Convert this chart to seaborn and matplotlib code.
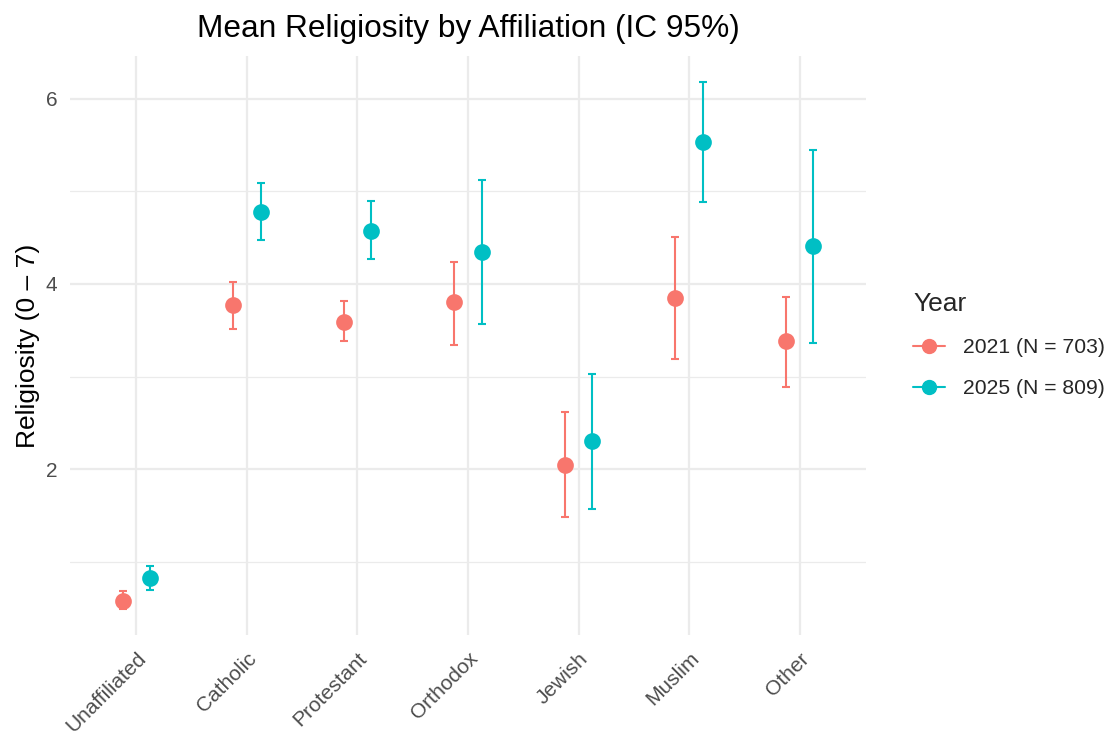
import numpy as np
import pandas as pd
import matplotlib
matplotlib.use("Agg")
import matplotlib.pyplot as plt
from matplotlib.lines import Line2D
import seaborn as sns

categories = ["Unaffiliated", "Catholic", "Protestant", "Orthodox", "Jewish", "Muslim", "Other"]
years = ["2021 (N = 703)", "2025 (N = 809)"]
mean_2021 = [0.58, 3.77, 3.59, 3.80, 2.04, 3.85, 3.38]
low_2021 = [0.49, 3.51, 3.38, 3.34, 1.48, 3.19, 2.89]
high_2021 = [0.68, 4.02, 3.82, 4.24, 2.62, 4.51, 3.86]
mean_2025 = [0.82, 4.78, 4.57, 4.34, 2.30, 5.53, 4.41]
low_2025 = [0.70, 4.47, 4.27, 3.57, 1.57, 4.88, 3.36]
high_2025 = [0.95, 5.09, 4.89, 5.12, 3.03, 6.18, 5.45]
colors = ["#F8766D", "#00BFC4"]

df = pd.DataFrame({
    "Affiliation": categories * 2,
    "Year": [years[0]] * 7 + [years[1]] * 7,
    "mean": mean_2021 + mean_2025,
    "low": low_2021 + low_2025,
    "high": high_2021 + high_2025,
})

sns.set_theme(style="white")
plt.rcParams["font.family"] = ["Liberation Sans", "DejaVu Sans"]

fig = plt.figure(figsize=(11.15, 7.35), dpi=100)
ax = fig.add_axes([70 / 1115, 1 - 635 / 735, (866 - 70) / 1115, (635 - 56) / 735])

dodge = 0.25
offsets = [-dodge / 2, dodge / 2]
for i, (yr, col) in enumerate(zip(years, colors)):
    sub = df[df["Year"] == yr]
    xs = np.arange(len(categories)) + offsets[i]
    ax.errorbar(xs, sub["mean"], yerr=[sub["mean"] - sub["low"], sub["high"] - sub["mean"]],
                fmt="none", ecolor=col, elinewidth=1.5, capsize=2.6, capthick=1.5, zorder=3)

sns.pointplot(data=df, x="Affiliation", y="mean", hue="Year", order=categories,
              hue_order=years, palette=colors, dodge=dodge, linestyle="none",
              errorbar=None, markers="o", markersize=10, ax=ax, zorder=4, legend=False)

ax.set_xlim(-0.6, 6.6)
ax.set_ylim(0.21, 6.46)
ax.set_yticks([2, 4, 6])
ax.set_yticks([1, 3, 5], minor=True)
ax.grid(True, which="major", color="#EBEBEB", linewidth=1.6)
ax.grid(True, which="minor", axis="y", color="#EBEBEB", linewidth=0.9)
ax.set_axisbelow(True)
for s in ax.spines.values():
    s.set_visible(False)
ax.tick_params(axis="both", which="both", length=0)
ax.tick_params(axis="y", labelsize=15, labelcolor="#4D4D4D", pad=9)
ax.tick_params(axis="x", labelsize=15, labelcolor="#4D4D4D", pad=10)
for lab in ax.get_xticklabels():
    lab.set_rotation(45)
    lab.set_ha("right")
    lab.set_va("top")
    lab.set_rotation_mode("anchor")

ax.set_xlabel("")
ax.set_ylabel("Religiosity (0 – 7)", fontsize=19, color="black", labelpad=4)
ax.set_title("Mean Religiosity by Affiliation (IC 95%)", fontsize=22.8, color="black", pad=14)

handles = [Line2D([0], [0], color=c, marker="o", markersize=10, linewidth=1.5) for c in colors]
leg = fig.legend(handles, years, title="Year", loc="center left",
                 bbox_to_anchor=(894 / 1115, 1 - 345 / 735), frameon=False,
                 fontsize=15.2, title_fontsize=19, handlelength=1.5, labelspacing=1.05,
                 handletextpad=0.85)
leg._legend_box.align = "left"

fig.savefig("out.png", dpi=100)
